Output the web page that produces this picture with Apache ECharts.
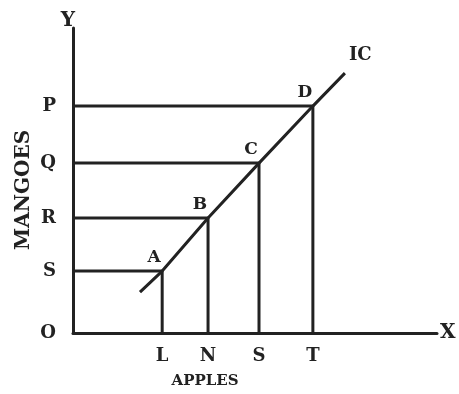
<!DOCTYPE html>
<html>
<head>
<meta charset="utf-8">
<script src="https://cdn.jsdelivr.net/npm/echarts@6/dist/echarts.min.js"></script>
<style>
  html, body { margin: 0; padding: 0; background: #fff; }
  #chart { width: 459px; height: 394px; }
</style>
</head>
<body>
<div id="chart"></div>
<script>
// points on the indifference curve (apples, mangoes)
var pointNames = ['A', 'B', 'C', 'D'];
var apples = [24.5, 37.1, 51.1, 65.9];
var mangoes = [20.3, 37.7, 55.7, 74.4];
// IC line runs a little past A and D
var icX = [18.4, 24.5, 37.1, 51.1, 65.9, 74.7];
var icY = [13.4, 20.3, 37.7, 55.7, 74.4, 85.2];
// tick labels on the axes
var xTickNames = ['L', 'N', 'S', 'T'];
var yTickNames = ['O', 'S', 'R', 'Q', 'P'];
var yTickValues = [0].concat(mangoes);

var ink = '#222';
var font = 'DejaVu Serif';

var chart = echarts.init(document.getElementById('chart'));

var series = [];
// dropped lines from each point to both axes
apples.forEach(function (x, i) {
  series.push({
    type: 'line',
    data: [[0, mangoes[i]], [x, mangoes[i]], [x, 0]],
    symbol: 'none',
    lineStyle: { color: ink, width: 3 },
    silent: true
  });
});
series.push({
  type: 'line',
  data: icX.map(function (x, i) { return [x, icY[i]]; }),
  symbol: 'none',
  lineStyle: { color: ink, width: 3 },
  endLabel: {
    show: true, formatter: 'IC', color: ink,
    fontFamily: font, fontWeight: 'bold', fontSize: 18,
    offset: [-4, -18]
  }
});
series.push({
  type: 'scatter',
  data: apples.map(function (x, i) { return { value: [x, mangoes[i]], name: pointNames[i] }; }),
  symbolSize: 0,
  itemStyle: { opacity: 1 },
  label: {
    show: true, position: 'top', offset: [-8, 0],
    formatter: '{b}', color: ink, opacity: 1,
    fontFamily: font, fontWeight: 'bold', fontSize: 17
  }
});

chart.setOption({
  backgroundColor: '#fff',
  animation: false,
  grid: { left: 73, top: 28, width: 364, height: 305 },
  xAxis: {
    type: 'value', min: 0, max: 100,
    name: 'X', nameGap: 3,
    nameTextStyle: { color: ink, fontFamily: font, fontWeight: 'bold', fontSize: 20, verticalAlign: 'middle' },
    axisLine: { lineStyle: { color: ink, width: 3 } },
    axisTick: { show: false },
    splitLine: { show: false },
    axisLabel: {
      customValues: apples,
      formatter: function (v) { return xTickNames[apples.indexOf(v)]; },
      color: ink, fontFamily: font, fontWeight: 'bold', fontSize: 18, margin: 14
    }
  },
  yAxis: {
    type: 'value', min: 0, max: 100,
    name: 'Y', nameGap: -3,
    nameTextStyle: { color: ink, fontFamily: font, fontWeight: 'bold', fontSize: 20, padding: [0, 10, 0, 0] },
    axisLine: { lineStyle: { color: ink, width: 3 } },
    axisTick: { show: false },
    splitLine: { show: false },
    axisLabel: {
      customValues: yTickValues,
      formatter: function (v) { return yTickNames[yTickValues.indexOf(v)]; },
      color: ink, fontFamily: font, fontWeight: 'bold', fontSize: 18, margin: 17
    }
  },
  graphic: [
    {
      type: 'text', x: 14, y: 250, rotation: Math.PI / 2,
      style: { text: 'MANGOES', fill: ink, font: 'bold 20px "DejaVu Serif"' }
    },
    {
      type: 'text', x: 205, y: 381,
      style: { text: 'APPLES', fill: ink, font: 'bold 15px "DejaVu Serif"', align: 'center', verticalAlign: 'middle' }
    }
  ],
  series: series
});
</script>
</body>
</html>
